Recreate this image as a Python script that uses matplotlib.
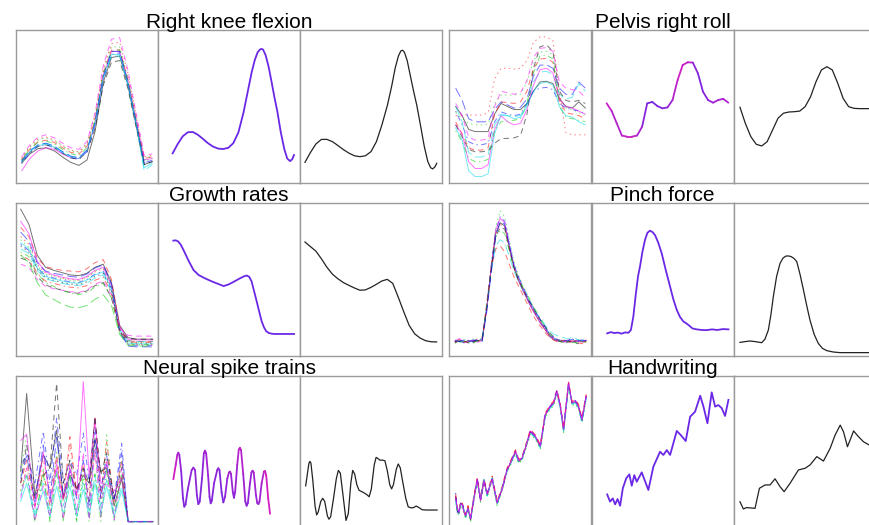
import matplotlib.pyplot as plt
import numpy as np
from matplotlib.collections import LineCollection
from matplotlib.colors import LinearSegmentedColormap

plt.rcParams['lines.scale_dashes'] = False

# ---------------- data (panel units: 0-100 in x and y) ----------------
titles = ['Right knee flexion', 'Pelvis right roll', 'Growth rates',
          'Pinch force', 'Neural spike trains', 'Handwriting']

# Right knee flexion
knee_raw = [
    [13, 19, 22.5, 23, 21, 17, 13.5, 11.5, 15, 34, 66, 82, 83, 64, 38, 12, 14],
    [15, 22, 27, 28, 26.5, 23, 20, 19, 24, 42, 72, 87, 87, 68, 42, 16, 17],
    [16, 23.5, 28, 29.5, 27.5, 24, 21, 20, 25, 43, 73, 89, 89, 69, 43, 15, 18],
    [13, 19.5, 24, 25, 23, 19.5, 16.5, 15.5, 20.5, 38, 68, 84, 85, 66, 40, 13, 14],
    [14, 21, 25, 26, 24, 20.5, 17.5, 16.5, 21.5, 39, 69, 83, 83, 64, 39, 8, 12],
    [8, 16, 21, 23, 22, 19, 16.5, 16, 21, 39, 70, 86, 86, 67, 41, 15, 16],
    [14, 20, 24, 25, 23, 19.5, 16.5, 15.5, 20, 36, 64, 79, 80, 62, 37, 12, 14],
    [16, 24, 29, 30, 28, 24.5, 21.5, 20.5, 26, 45, 75, 91, 92, 72, 45, 17, 18],
    [15, 22.5, 26.5, 27.5, 25.5, 22, 19, 18, 23, 41, 71, 86, 87, 67, 41, 14, 16],
    [14.5, 21, 25, 26, 24, 20.5, 17.5, 16.5, 21.5, 40, 70, 86, 86, 66, 40, 13, 15],
    [14, 20.5, 24.5, 25.5, 23.5, 20, 17, 16, 21, 39, 69, 84, 84, 65, 39, 10, 13],
    [17, 25, 30, 31.5, 29.5, 26, 23, 22, 27, 46, 77, 94, 95, 74, 46, 18, 19],
]
knee_mean_x = [10.3, 13.9, 17.4, 21.0, 24.6, 28.1, 31.7, 35.2, 38.8, 42.3, 45.9, 49.5, 53.0,
               56.6, 60.2, 63.7, 66.0, 68.2, 70.2, 72.0, 73.0, 74.0, 75.8, 77.9, 80.0, 82.0,
               84.0, 86.5, 89.0, 91.0, 93.0, 94.5, 95.8]
knee_mean_y = [19.4, 25.5, 30.5, 33.2, 33.3, 31.5, 28.8, 26.0, 23.8, 22.5, 22.2, 23.0, 26.0,
               33.0, 46.0, 62.0, 72.5, 80.5, 85.5, 87.4, 87.6, 87.2, 83.5, 76.0, 66.0, 56.0,
               47.0, 33.0, 22.0, 16.0, 14.3, 15.5, 18.3]
knee_smooth_x = [3.5, 7.4, 11.2, 15.1, 19.0, 22.9, 26.7, 30.6, 34.5, 38.3, 42.2, 46.1, 50.0,
                 53.8, 57.7, 61.6, 64.5, 67.0, 69.3, 71.0, 72.2, 73.5, 75.5, 77.5, 80.0, 82.2,
                 84.8, 87.5, 90.0, 92.0, 93.4, 95.0, 96.3]
knee_smooth_y = [13.5, 20.0, 25.5, 28.5, 28.5, 27.0, 24.5, 21.8, 19.5, 17.8, 17.2, 17.8, 20.5,
                 27.0, 38.0, 51.0, 63.0, 75.0, 83.0, 86.3, 86.8, 85.5, 80.0, 71.0, 60.0, 51.0,
                 38.0, 24.0, 14.0, 10.0, 9.2, 10.5, 12.9]

# Pelvis right roll
pelvis_raw = [
    [50, 44, 35, 33.6, 33.6, 33.6, 45, 52, 50, 48, 48, 52, 60, 66, 66.5, 65, 55, 50, 49, 53, 49],
    [40, 32, 23, 21.5, 21.5, 23, 45, 53, 52.5, 52, 53, 60, 75, 81, 81.5, 79, 54, 46, 45, 44, 42],
    [46, 42, 39, 38, 38, 38.5, 52, 57.5, 57.5, 57.5, 58, 66, 80, 85.5, 86, 84, 56, 49, 48, 46, 44],
    [47, 38, 27, 25, 25, 26, 40, 46.5, 45, 44, 45, 52, 60, 62, 62.5, 61, 52, 49, 48, 47, 45],
    [50, 40, 20, 17, 17, 18.5, 38, 44, 44, 43.5, 44, 52, 66, 72.5, 73, 71, 58, 55, 56, 65, 60],
    [38, 32, 14, 9.5, 9.5, 12, 35, 44, 40, 38, 39, 48, 64, 74, 75, 72, 55, 50, 49, 47, 45],
    [38, 30, 22, 20.4, 20.4, 21, 26, 29, 29.2, 29.5, 31, 45, 75, 89, 90.3, 86, 60, 54, 53, 54, 52],
    [44, 44.4, 44.4, 44.4, 44.4, 46, 68, 75, 75, 74.5, 75, 80, 92, 95.5, 95.5, 93, 60, 33, 31.5, 31.5, 31.5],
    [34, 27, 16, 14, 14, 15.5, 34, 40, 40.4, 41, 42, 52, 72, 83, 83.7, 81, 50, 43, 42, 41, 40],
    [62, 54, 42, 40, 40, 40, 48, 53, 51, 49, 49.5, 55, 70, 77, 77.3, 75, 62, 58, 58, 66, 62],
    [36, 28, 8, 4.2, 4.2, 6, 32, 45, 44, 42, 43, 50, 60, 65, 66, 64, 50, 44, 43, 40, 38],
    [52, 44, 30, 28, 28, 29, 50, 60, 59, 58, 59, 67, 82, 88, 88.5, 86, 66, 62, 61, 60, 56],
]
pelvis_mean = [52.1, 47, 39, 31, 30.3, 30.3, 31, 36.8, 52, 53, 50.3, 48.8, 49.4, 54.2, 67.3,
               77.1, 78.9, 78.7, 71.7, 59.7, 54.2, 52.5, 54.2, 55, 52.5]
pelvis_mix = [1.0, 0.8, 0.6, 0.8, 0.9, 0.9, 0.8, 0.4, 0.2, 0.1, 0.2, 0.2, 0.3, 0.6, 0.9,
              1.0, 0.9, 0.5, 0.2, 0.2, 0.4, 0.5, 0.6, 0.6, 0.7]
pelvis_smooth = [49.5, 38.9, 30.3, 25.3, 24.2, 27, 34.6, 42.3, 45.6, 46.4, 46.6, 47, 49.9,
                 56.4, 66.2, 73.9, 76, 73.9, 65.2, 55.3, 49.9, 48.8, 48.6, 48.6, 48.6]

# Growth rates
growth_raw = [
    [96, 86, 66, 58, 56, 54.5, 53, 52.5, 54, 58, 60, 48, 20, 12, 11, 11, 11],
    [84, 78, 64, 58.5, 57, 56, 55.5, 55, 57, 61, 63, 50, 19, 10, 9.5, 9.5, 9.5],
    [76, 71, 59, 53.5, 52, 50.5, 49.5, 49, 51, 55.5, 58, 47, 18, 10, 9, 9, 9],
    [73, 69, 58, 52.5, 51, 49.5, 48.5, 48, 50, 53.5, 55.5, 44, 16, 7.5, 7, 7, 7],
    [70, 67, 56, 50.5, 49, 47.5, 46.5, 46, 47.5, 51, 53, 42, 17, 10, 9.5, 9.5, 9.5],
    [88, 80, 62, 55, 53, 51.5, 50.5, 50, 52, 56, 58, 46, 19, 11, 10.5, 10.5, 10.5],
    [64, 62, 52, 46.5, 44.5, 43, 41.5, 41, 42.5, 46, 48, 38, 16, 11.5, 11, 11, 11],
    [78, 73, 60, 54, 52.5, 51, 50, 49.5, 51.5, 55, 57, 45, 17.5, 8, 7.5, 7.5, 7.5],
    [68, 65, 54, 48, 45.5, 43, 41, 40, 41.5, 45, 47.5, 38, 15, 8, 7.5, 7.5, 7.5],
    [81, 75, 61, 55.5, 54, 53, 52, 51.5, 53.5, 57.5, 59.5, 47, 16, 6.5, 6, 6, 6],
    [74, 70, 57.5, 52, 50.5, 49, 48, 47.5, 49.5, 53, 55, 44, 17, 8.5, 8, 8, 8],
    [60, 58, 50, 45.5, 44, 43, 42, 41.5, 43, 47, 49, 40, 18, 13.5, 13, 13, 13],
    [72, 68, 57, 51, 49.5, 48, 47, 46.5, 48.5, 52, 54, 43, 16.5, 9, 8.5, 8.5, 8.5],
    [66, 63, 54, 49, 47.5, 46, 45, 44.5, 46, 49.5, 51.5, 41, 16, 9.5, 9, 9, 9],
    [66, 61, 48, 40, 37, 34, 32, 31.5, 33, 37, 40, 33, 14, 7, 6.5, 6.5, 6.5],
]
growth_mean_x = [10.8, 12.5, 14.3, 16.0, 17.9, 21.4, 25.0, 28.5, 32.1, 35.6, 39.1, 42.7, 46.2,
                 49.8, 53.3, 56.8, 60.4, 62.4, 64.2, 65.9, 67.5, 69.5, 71.0, 73.0, 74.6, 76.2,
                 78.1, 80.0, 81.6, 85.2, 88.7, 92.3, 95.8]
growth_mean_y = [75.4, 75.6, 74.8, 72.8, 69.4, 62.5, 56.2, 53.0, 51.2, 49.7, 48.3, 47.0, 45.7,
                 46.8, 48.5, 50.3, 52.0, 52.6, 51.8, 48.8, 43.0, 35.7, 30.0, 22.7, 18.8, 16.2,
                 15.0, 14.6, 14.4, 14.4, 14.4, 14.4, 14.4]
growth_smooth = [74.5, 71.5, 68.5, 63.5, 58.0, 53.5, 50.5, 48.0, 46.2, 44.5, 43.0, 43.2, 44.8,
                 46.8, 49.0, 50.1, 47.5, 38.5, 29.0, 20.0, 14.5, 11.7, 10.0, 9.3, 9.2]

# Pinch force
pinch_raw = [
    [9.5, 10.5, 9, 10, 9.5, 10, 10.5, 31, 57, 80, 87, 85, 71, 58, 49.5, 43, 37, 31, 26, 21, 17, 12.5, 10.5, 9.5, 10, 9.5, 9, 10.5, 9.5, 10],
    [8.5, 11, 9.5, 8.5, 10, 11, 12, 34, 57, 70, 72, 68, 60, 52, 46, 40, 34, 28, 23, 19, 15, 12, 10, 9, 10.5, 8.5, 10, 9, 8, 9.5],
    [10, 9, 10.5, 9.5, 8.5, 9.5, 10, 30, 58, 84, 95, 91, 76, 62, 53, 46, 40, 34, 28, 23, 18, 14, 11, 10.5, 9, 10, 11, 9, 10.5, 9],
    [9, 10, 8.5, 10.5, 9, 10.5, 11, 32, 59, 82, 91, 88, 74, 60, 51, 44, 38, 32, 27, 22, 18, 13.5, 11, 10, 9.5, 11, 10, 9.5, 10, 9.5],
    [10.5, 9.5, 10, 9, 11, 10, 11.5, 33, 55, 72, 76, 74, 65, 56, 49, 43, 38, 33, 28, 24, 20, 16, 14, 13, 12, 11, 12.5, 11, 10, 11],
    [10, 11.5, 9, 9.5, 10.5, 9, 10, 30, 57, 82, 90, 87, 72, 59, 50, 43.5, 37, 31, 26, 21, 17, 13, 10.5, 9.5, 9, 10.5, 9.5, 10, 9, 10.5],
    [9, 9.5, 10, 8.5, 9.5, 10, 10, 31, 56, 78, 84, 83, 70, 58, 50, 44, 38, 33, 28, 23, 19, 15, 12, 10, 8.5, 9, 10.5, 8, 9, 9.5],
    [9.5, 10, 9, 10, 9, 9.5, 10.5, 33, 59, 80, 86, 84, 71, 58, 50, 44, 38, 32, 27, 22, 17, 13, 11, 10, 10.5, 9.5, 10, 9.5, 10, 9],
    [8.5, 9, 9.5, 10, 8.5, 10, 10, 31, 56, 78, 82, 80, 69, 58, 51, 45, 40, 34, 29, 24, 19, 14, 11, 9.5, 9, 10, 9, 8.5, 9.5, 9],
    [10, 9.5, 10.5, 9.5, 10, 10.5, 9.5, 28, 54, 78, 88, 86, 73, 60, 52, 45.5, 39, 33, 28, 23, 18.5, 14, 11.5, 10.5, 10, 10, 11, 9.5, 10.5, 10],
]
pinch_mean_x = [10.7, 13.2, 15.7, 18.2, 20.7, 23.2, 25.7, 27.4, 29.1, 30.8, 32.4, 33.8, 35.5,
                37.3, 39.0, 40.8, 42.6, 44.4, 46.7, 49.1, 52.0, 55.0, 57.3, 59.7, 62.0, 64.4,
                66.2, 67.9, 70.8, 73.8, 77.3, 80.8, 84.5, 88.3, 92.2, 96.1]
pinch_mean_y = [14.8, 15.6, 15.0, 15.3, 14.6, 15.4, 15.2, 17, 25.7, 40, 52, 58.5, 68, 75.8,
                80.5, 81.9, 81, 79, 74, 67.1, 56, 45.3, 37, 30.1, 25.5, 22.5, 21.5, 20.3,
                18.0, 17.4, 17.0, 16.9, 17.4, 17.0, 17.6, 17.4]
pinch_smooth_x = [4.2, 7.8, 11.2, 15.0, 19.5, 21.8, 24.2, 26.0, 27.7, 30.0, 32.4, 34.5, 36.5,
                  38.3, 40.2, 42.2, 44.2, 46.6, 48.9, 51.2, 53.5, 56.5, 59.4, 62.3, 65.3,
                  70.0, 74.6, 80.0, 86.0, 92.0, 96.0]
pinch_smooth_y = [8.9, 9.4, 9.8, 9.4, 8.7, 11, 17, 27, 38.8, 52, 60.5, 64, 65.3, 65.4, 65.0,
                  63.8, 61.7, 53, 43.2, 33, 23.5, 14, 8.2, 5, 3.5, 2.6, 2.2, 2.2, 2.2, 2.2, 2.2]

# Neural spike trains (peaks and troughs)
spike_x = [3.3, 7.5, 13.3, 19.2, 23.9, 28.6, 33.3, 38.0, 42.7, 47.4, 51.5, 55.6, 59.7,
           63.8, 69.1, 74.4, 79.0, 96.5]
spike_raw = [
    [37.5, 88.6, 22, 48.4, 40, 64.8, 19.8, 35.3, 26.6, 35, 30, 59.3, 37.5, 39.8, 15, 33, 4.8, 4.8],
    [30, 45, 15, 38, 15, 48, 18, 60.3, 22, 42, 18, 72.5, 20, 57, 18, 45, 4.8, 4.8],
    [35, 62, 5, 40, 5, 50, 5, 45, 5, 40, 10, 55, 8, 62.7, 8, 45, 4.8, 4.8],
    [40, 50, 30, 63.8, 30, 72.5, 30, 45, 35, 62.7, 30, 67, 25, 48, 20, 56, 4.8, 4.8],
    [22, 35, 10, 30, 12, 38, 15, 33, 12, 30, 12, 35, 15, 32, 10, 28, 4.8, 4.8],
    [57.9, 62, 13.5, 50.5, 18, 39.9, 20, 40, 22, 96.3, 35, 72.3, 30, 28.8, 25, 33, 5, 5],
    [30, 55, 20, 35, 40, 95.2, 30, 45, 25, 40, 30, 73.4, 35, 50, 20, 40, 4.8, 4.8],
    [25, 40, 20, 45, 25, 42, 22, 55, 25, 38, 25, 50, 22, 45, 20, 35, 4.8, 4.8],
    [25, 36, 4.8, 36, 4.8, 37, 4.8, 35, 4.8, 34, 4.8, 36, 5, 38, 5, 36, 4.8, 4.8],
    [33, 48, 18, 55, 20, 60, 22, 38, 20, 45, 15, 58, 20, 42, 18, 50, 4.8, 4.8],
    [18, 30, 8, 25, 8, 28, 10, 28, 8, 26, 8, 30, 10, 28, 8, 25, 4.8, 4.8],
    [20, 40, 5, 28, 8, 45, 6, 42, 10, 50, 6, 52, 8, 45, 6, 40, 4.8, 4.8],
]
spike_mean_x = [10.8, 12.5, 13.6, 14.3, 15.0, 16.3, 17.6, 18.5, 19.4, 21.0, 23.7, 24.9, 26.1,
                27.4, 28.4, 29.4, 31.0, 32.3, 33.1, 33.9, 35.3, 36.3, 37.1, 37.9, 39.5, 41.7,
                42.5, 43.3, 44.8, 46.0, 47.2, 48.8, 50.0, 50.7, 51.4, 52.7, 53.5, 54.3, 55.8,
                56.9, 57.7, 58.5, 60.0, 61.5, 62.4, 63.3, 64.8, 65.8, 66.6, 67.4, 69.0, 69.9,
                70.7, 71.5, 73.0, 74.6, 75.4, 76.2, 77.6, 78.9]
spike_mean_y = [32.5, 42, 48.5, 49.9, 48.5, 38, 20, 14.6, 16, 26, 38.5, 40.1, 38.5, 22, 16.3,
                18, 33, 49.5, 51.2, 49.5, 35, 21, 16.8, 18.5, 30, 38.5, 39.7, 38.5, 24, 17.4,
                21, 33, 37, 37.5, 36, 24, 20.4, 24, 42, 52, 53.1, 51.5, 36, 18, 15.2, 17, 30,
                37, 38.1, 37, 22, 17, 16.3, 18, 30, 37.5, 37.9, 35, 20, 9.9]
spike_mix = [1.0, 0.9, 0.8, 0.7, 0.5, 0.3, 0.2, 0.2, 0.2, 0.3, 0.4, 0.5, 0.4, 0.3, 0.2,
             0.2, 0.3, 0.4, 0.6, 0.6, 0.5, 0.3, 0.2, 0.2, 0.3, 0.4, 0.4, 0.3, 0.2, 0.2,
             0.3, 0.5, 0.6, 0.6, 0.5, 0.4, 0.3, 0.4, 0.6, 0.8, 0.9, 0.8, 0.6, 0.4, 0.3,
             0.3, 0.4, 0.5, 0.6, 0.6, 0.5, 0.4, 0.4, 0.5, 0.6, 0.8, 0.9, 1.0, 1.0, 1.0]
spike_smooth_x = [4.0, 5.5, 6.3, 7.0, 7.7, 9.0, 10.6, 11.7, 12.8, 14.6, 16.0, 17.4, 19.3,
                  20.4, 21.6, 23.6, 25.6, 27.0, 28.4, 30.3, 32.4, 34.0, 35.8, 37.1, 38.5,
                  40.0, 41.6, 44.6, 47.0, 48.7, 50.2, 52.3, 53.6, 55.0, 56.3, 58.2, 59.8,
                  61.5, 63.2, 64.5, 65.8, 67.8, 69.2, 70.6, 72.5, 74.5, 76.2, 78.3, 80.0,
                  81.8, 83.8, 86.0, 89.0, 92.0, 96.5]
spike_smooth_y = [28.2, 38, 43, 44.2, 43, 32, 15, 9.2, 11, 18, 20.1, 18, 8.5, 6.4, 8, 20, 33,
                  38.3, 36.5, 22, 5.6, 10, 30, 38.3, 36, 29, 25.3, 23.9, 22.5, 21.1, 26, 42,
                  46.8, 46, 45, 45, 44.6, 38, 29, 26.2, 29, 39, 42.5, 40, 30, 20, 14.5, 13.8,
                  14.0, 15.0, 14.0, 12.6, 12.4, 12.4, 12.4]

# Handwriting
hand_x = [4.7, 5.8, 7.0, 8.2, 9.4, 10.5, 11.7, 13.4, 15.2, 17.5, 19.9, 22.2, 24.6, 26.9,
          30.4, 33.9, 37.4, 40.9, 43.8, 46.8, 49.1, 51.5, 54.5, 57.3, 60.8, 64.3, 67.8,
          71.3, 73.6, 76.0, 78.4, 80.7, 84.2, 86.6, 88.9, 91.2, 93.6, 96.6]
hand_raw = [
    [21.2, 12, 10.2, 17, 15.6, 12, 8.2, 14, 6.0, 20, 32.0, 19, 32, 22.2, 33.1, 16.8, 26.4, 38.4, 44, 50.5, 44, 46.2, 55, 63.6, 60.3, 53.8, 74.5, 79.9, 82, 89.7, 79.9, 64.7, 95.2, 82.1, 83.2, 79.9, 71.2, 86.5],
    [22.5, 13.5, 11.5, 18, 16.8, 13, 9.5, 15.2, 7.5, 21.5, 33.5, 20.5, 33.2, 23.5, 34.5, 18, 27.8, 39.8, 45.5, 51.8, 45.5, 47.5, 56.5, 65, 61.5, 55.2, 76, 81, 83.5, 91, 81.5, 66, 96, 83.5, 84.5, 81.5, 72.5, 88],
    [19.5, 10.5, 8.8, 15.5, 14, 10.5, 6.8, 12.5, 4.8, 18.5, 30.5, 17.5, 30.5, 20.8, 31.5, 15.3, 25, 37, 42.5, 49, 42.8, 44.8, 53.5, 62, 58.8, 52.2, 73, 78.5, 80.5, 88, 78.5, 63, 93.5, 80.5, 81.8, 78.5, 69.5, 85],
    [23.5, 11, 12, 16, 17.2, 11.5, 9, 13, 6.5, 19, 33, 18.5, 31.5, 23, 32.5, 17.5, 25.5, 39, 44.5, 51, 44.5, 46.8, 54.5, 64.5, 60.5, 54.5, 75, 80.5, 82.5, 90.5, 80.5, 65.5, 94.5, 82.5, 84, 80.5, 70.5, 87],
    [18, 12.5, 9.5, 17.5, 14.8, 12.5, 7.5, 14.5, 5.5, 20.5, 31, 19.5, 32.5, 21.5, 33.5, 16, 27, 38, 43.5, 50, 43.5, 45.5, 55.5, 62.5, 59.5, 53, 74, 79, 81.5, 89, 79, 64, 94, 81.5, 82.5, 79, 70, 85.5],
    [20.5, 14, 10.8, 16.5, 16, 11, 8.8, 13.5, 6.8, 19.5, 32.5, 18.5, 31.5, 22.8, 32.5, 17.2, 26, 38.8, 44.2, 50.8, 44.8, 46.5, 55, 64, 60.8, 54.2, 74.8, 80.2, 82.3, 90, 80.2, 65.2, 95.5, 82.6, 83.6, 80.3, 71.6, 87],
]
hand_mean_x = [10.7, 12.7, 14.6, 16.3, 18.0, 19.8, 21.7, 24.1, 26.3, 28.0, 29.8, 31.5, 35.0,
               39.7, 43.2, 47.9, 50.3, 52.7, 55.0, 59.7, 62.5, 66.0, 69.1, 72.6, 76.2, 78.5,
               81.3, 84.3, 86.7, 89.0, 91.4, 93.7, 96.1]
hand_mean_y = [22.6, 17.9, 20.0, 16.1, 19.6, 15.2, 26.6, 33.1, 35.7, 28.3, 35.2, 30.9, 37.0,
               25.5, 40.7, 50.5, 48.4, 51.6, 48.4, 64.1, 61.4, 57.5, 73.4, 76.7, 87.1, 80.0,
               69.1, 89.3, 80.0, 81.0, 78.9, 73.9, 84.4]
hand_smooth_x = [4.2, 6.6, 8.9, 14.8, 17.9, 21.9, 25.4, 28.9, 32.4, 35.3, 39.5, 45.4, 50.1,
                 53.6, 58.3, 63.0, 67.7, 71.2, 74.8, 77.1, 79.9, 81.8, 84.2, 87.7, 91.2, 95.2]
hand_smooth_y = [17.8, 13.1, 14.0, 13.5, 26.6, 28.8, 28.8, 32.8, 27.7, 24.4, 29.9, 38.6, 39.7,
                 41.9, 47.3, 44.4, 52.7, 61.4, 67.9, 63.6, 53.8, 58.2, 64.1, 60.3, 57.0, 54.9]

# ---------------- drawing ----------------
W, H = 869, 525
fig = plt.figure(figsize=(W / 100, H / 100), dpi=100)

r_cols = ['#000000', '#ff0000', '#00cd00', '#0000ff', '#00d8e8', '#ff00ff']
r_ltys = ['-', (0, (4, 3)), (0, (1, 2.5)), (0, (1, 2.5, 4, 2.5)), (0, (7, 3))]
purple = '#6a28e6'
mix_cmap = LinearSegmentedColormap.from_list('pm', [purple, '#d21fc2'])

col_left = [[16, 158, 300], [449, 592, 734]]
row_top = [30, 203, 376]
PW, PH = 142, 153


def panel(px, py):
    ax = fig.add_axes([px / W, 1 - (py + PH) / H, PW / W, PH / H])
    ax.set_xlim(0, 100)
    ax.set_ylim(0, 100)
    ax.set_xticks([])
    ax.set_yticks([])
    for s in ax.spines.values():
        s.set_color('#9a9a9a')
        s.set_linewidth(1.0)
    return ax


def bundle(ax, x, curves, lw=0.7, alpha=0.55):
    for i, y in enumerate(curves):
        ax.plot(x, y, color=r_cols[i % 6], ls=r_ltys[i % 5], lw=lw, alpha=alpha)


def mixed(ax, x, y, mix):
    pts = np.column_stack([x, y])
    segs = np.stack([pts[:-1], pts[1:]], axis=1)
    m = (np.array(mix[:-1]) + np.array(mix[1:])) / 2
    lc = LineCollection(segs, cmap=mix_cmap, norm=plt.Normalize(0, 1),
                        linewidths=1.3, capstyle='round', joinstyle='round')
    lc.set_array(m)
    ax.add_collection(lc)


# rows / groups
axs = {}
for r in range(3):
    for g in range(2):
        axs[(r, g)] = [panel(px, row_top[r]) for px in col_left[g]]
        cx = (col_left[g][0] + col_left[g][2] + PW) / 2
        fig.text(cx / W, 1 - (row_top[r] - 2) / H, titles[2 * r + g],
                 ha='center', va='baseline', fontsize=15, family='Liberation Sans')

# Right knee flexion
a = axs[(0, 0)]
bundle(a[0], np.linspace(4, 96, 17), knee_raw)
a[1].plot(knee_mean_x, knee_mean_y, color=purple, lw=1.3)
a[2].plot(knee_smooth_x, knee_smooth_y, color='#222222', lw=0.9)

# Pelvis right roll
a = axs[(0, 1)]
bundle(a[0], np.linspace(4.7, 96, 21), pelvis_raw)
mixed(a[1], np.linspace(10.3, 96, 25), pelvis_mean, pelvis_mix)
a[2].plot(np.linspace(4.2, 96, 25), pelvis_smooth, color='#222222', lw=0.9)

# Growth rates
a = axs[(1, 0)]
bundle(a[0], np.linspace(3.3, 96.3, 17), growth_raw)
a[1].plot(growth_mean_x, growth_mean_y, color=purple, lw=1.3)
a[2].plot(np.linspace(3.5, 96.2, 25), growth_smooth, color='#222222', lw=0.9)

# Pinch force
a = axs[(1, 1)]
bundle(a[0], np.linspace(4.2, 96.6, 30), pinch_raw)
a[1].plot(pinch_mean_x, pinch_mean_y, color=purple, lw=1.3)
a[2].plot(pinch_smooth_x, pinch_smooth_y, color='#222222', lw=0.9)

# Neural spike trains
a = axs[(2, 0)]
bundle(a[0], spike_x, spike_raw)
mixed(a[1], spike_mean_x, spike_mean_y, spike_mix)
a[2].plot(spike_smooth_x, spike_smooth_y, color='#222222', lw=0.9)

# Handwriting
a = axs[(2, 1)]
bundle(a[0], hand_x, hand_raw, lw=0.8, alpha=0.7)
a[1].plot(hand_mean_x, hand_mean_y, color=purple, lw=1.3)
a[2].plot(hand_smooth_x, hand_smooth_y, color='#222222', lw=0.9)

fig.savefig('out.png', dpi=100)
